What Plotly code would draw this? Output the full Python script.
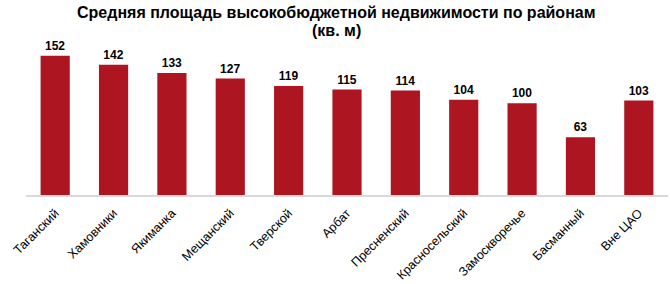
import plotly.graph_objects as go

districts = ["Таганский", "Хамовники", "Якиманка", "Мещанский", "Тверской", "Арбат",
             "Пресненский", "Красносельский", "Замоскворечье", "Басманный", "Вне ЦАО"]
areas = [152, 142, 133, 127, 119, 115, 114, 104, 100, 63, 103]
title_lines = ["Средняя площадь высокобюджетной недвижимости по районам", "(кв. м)"]

fig = go.Figure(go.Bar(
    x=districts, y=areas,
    marker=dict(color="#AD1520", line=dict(width=0)),
    text=[str(v) for v in areas],
    textposition="outside",
    textfont=dict(family="Liberation Sans, Arial", size=12, color="#000000", weight="bold"),
    cliponaxis=False,
))

top_px, plot_h = 48, 150
title_ys = [12, 30]
fig.update_layout(
    width=670, height=284,
    margin=dict(l=26, r=2, t=top_px, b=86),
    paper_bgcolor="white", plot_bgcolor="white",
    bargap=0.5,
    showlegend=False,
    font=dict(family="Liberation Sans, Arial", color="#000000"),
    annotations=[dict(
        text="<b>" + line + "</b>",
        xref="paper", yref="paper", x=0.483, y=1 + (top_px - ypx) / plot_h,
        xanchor="center", yanchor="middle", showarrow=False,
        font=dict(family="Liberation Sans, Arial", size=16, color="#000000"),
    ) for line, ypx in zip(title_lines, title_ys)],
)
fig.update_xaxes(
    tickangle=-45, tickfont=dict(size=12.5, color="#000000"),
    showline=True, linecolor="#D9D9D9", linewidth=2,
    ticks="", showgrid=False, ticklabelstandoff=4,
)
fig.update_yaxes(range=[0, 160.4], visible=False, showgrid=False)

fig.write_html("out.html")
